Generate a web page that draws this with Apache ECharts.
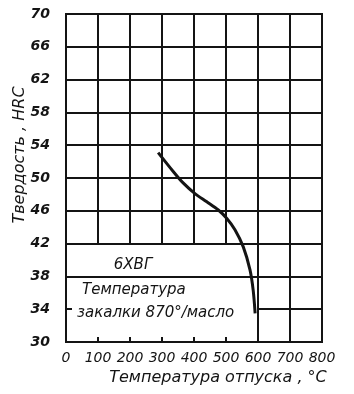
<!DOCTYPE html>
<html>
<head>
<meta charset="utf-8">
<script src="https://cdn.jsdelivr.net/npm/echarts@6/dist/echarts.min.js"></script>
<style>
  html, body { margin: 0; padding: 0; background: #fff; }
  #chart { width: 354px; height: 394px; }
</style>
</head>
<body>
<div id="chart"></div>
<script>
// кривая отпуска 6ХВГ
const tempC = [288, 335, 366, 403, 440, 476, 502, 528, 554, 575, 585, 591];
const hrc = [53.1, 50.8, 49.4, 48.1, 47.1, 46.1, 45.1, 43.7, 41.6, 38.8, 36.3, 33.5];

const xTicks = [0, 100, 200, 300, 400, 500, 600, 700, 800];
const yTicks = [30, 34, 38, 42, 46, 50, 54, 58, 62, 66, 70];

const steel = "6ХВГ";
const note1 = "Температура";
const note2 = "закалки 870°/масло";

// граница таблички в левом нижнем углу
const boxRight = 600;
const boxTop = 42;
const boxMid = 38;

const ink = "#141414";
const font = "'DejaVu Sans', sans-serif";

const seg = (x1, y1, x2, y2) => [{ coord: [x1, y1] }, { coord: [x2, y2] }];

// сетка: над табличкой полная, внутри таблички только линия 38
const gridLines = [];
yTicks.forEach((v) => {
  if (v === 30 || v === 70) return;
  if (v >= boxTop || v === boxMid) gridLines.push(seg(0, v, 800, v));
  else gridLines.push(seg(boxRight, v, 800, v));
});
xTicks.forEach((v) => {
  if (v === 0 || v === 800) return;
  if (v >= boxRight) gridLines.push(seg(v, 30, v, 70));
  else gridLines.push(seg(v, boxTop, v, 70));
});

const chart = echarts.init(document.getElementById("chart"));
chart.setOption({
  backgroundColor: "#fff",
  animation: false,
  grid: {
    left: 66,
    right: 32,
    top: 14,
    bottom: 52,
    show: true,
    borderColor: ink,
    borderWidth: 2,
  },
  xAxis: {
    type: "value",
    min: 0,
    max: 800,
    interval: 100,
    axisLine: { lineStyle: { color: ink, width: 2 } },
    axisTick: { inside: true, length: 5, lineStyle: { color: ink, width: 2 } },
    splitLine: { show: false },
    axisLabel: {
      color: ink,
      fontFamily: font,
      fontStyle: "italic",
      fontSize: 14,
      margin: 9,
    },
  },
  yAxis: {
    type: "value",
    min: 30,
    max: 70,
    interval: 4,
    axisLine: { lineStyle: { color: ink, width: 2 } },
    axisTick: { inside: true, length: 6, lineStyle: { color: ink, width: 2 } },
    splitLine: { show: false },
    axisLabel: {
      color: ink,
      fontFamily: font,
      fontStyle: "italic",
      fontWeight: "bold",
      fontSize: 14,
      margin: 16,
    },
  },
  graphic: [
    {
      type: "text",
      x: 20,
      y: 155,
      rotation: Math.PI / 2,
      style: {
        text: "Твердость , HRC",
        fill: ink,
        font: "italic 16px " + font,
        align: "center",
        verticalAlign: "middle",
      },
    },
    {
      type: "text",
      x: 218,
      y: 378,
      style: {
        text: "Температура отпуска , °С",
        fill: ink,
        font: "italic 16px " + font,
        align: "center",
        verticalAlign: "middle",
      },
    },
    {
      type: "text",
      x: 133,
      y: 265,
      style: { text: steel, fill: ink, font: "italic 15px " + font, align: "center", verticalAlign: "middle" },
    },
    {
      type: "text",
      x: 82,
      y: 290,
      style: { text: note1, fill: ink, font: "italic 15px " + font, align: "left", verticalAlign: "middle" },
    },
    {
      type: "text",
      x: 77,
      y: 313,
      style: { text: note2, fill: ink, font: "italic 15px " + font, align: "left", verticalAlign: "middle" },
    },
  ],
  series: [
    {
      type: "line",
      data: tempC.map((t, i) => [t, hrc[i]]),
      smooth: 0.3,
      showSymbol: false,
      lineStyle: { color: ink, width: 3 },
      z: 5,
      markLine: {
        silent: true,
        symbol: "none",
        label: { show: false },
        lineStyle: { color: ink, width: 2, type: "solid" },
        data: gridLines,
      },
    },
  ],
});
</script>
</body>
</html>
